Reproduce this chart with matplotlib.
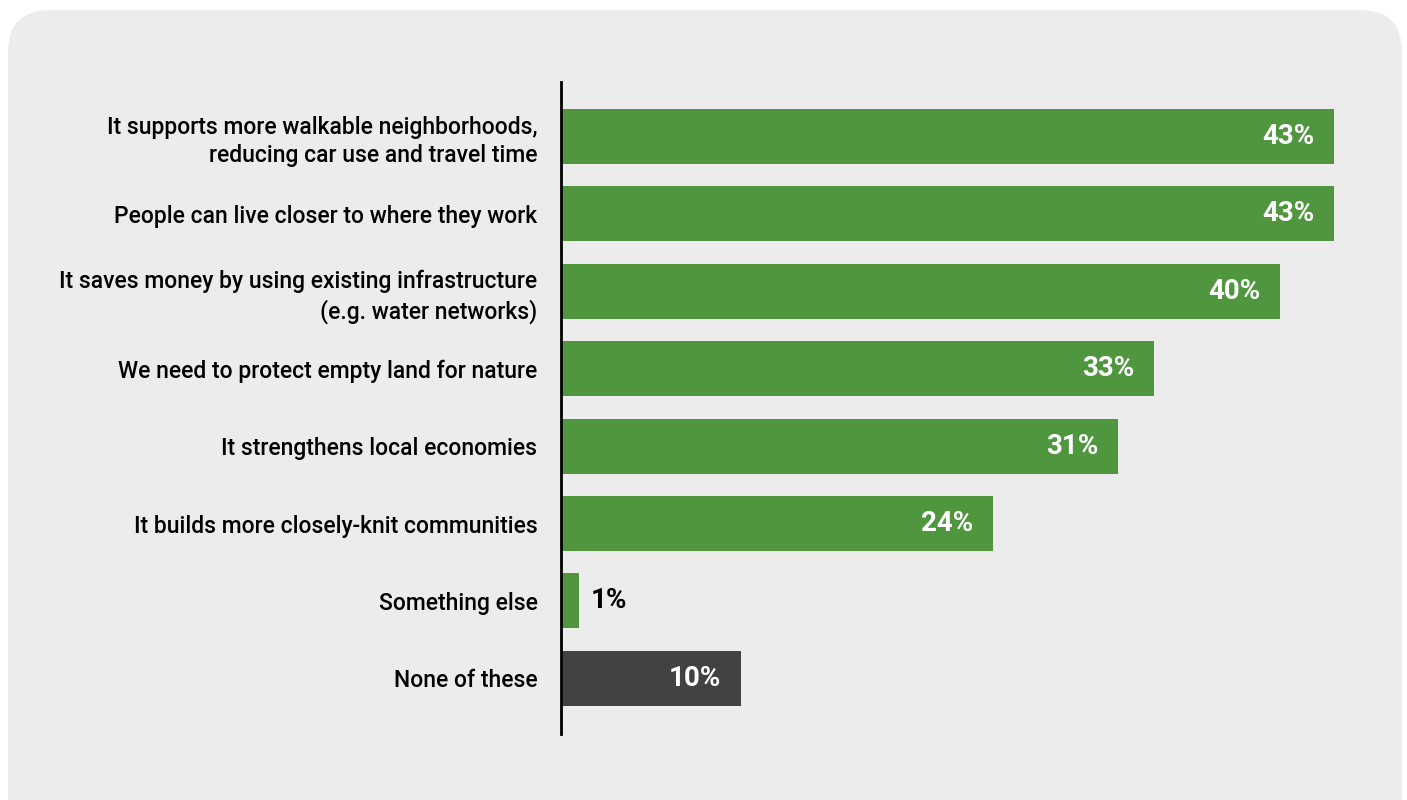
import matplotlib.pyplot as plt
from matplotlib.patches import FancyBboxPatch
from matplotlib import font_manager

categories = [
    "It supports more walkable neighborhoods,\nreducing car use and travel time",
    "People can live closer to where they work",
    "It saves money by using existing infrastructure\n(e.g. water networks)",
    "We need to protect empty land for nature",
    "It strengthens local economies",
    "It builds more closely-knit communities",
    "Something else",
    "None of these",
]
values = [43, 43, 40, 33, 31, 24, 1, 10]
colors = ["#4f963f"] * 7 + ["#424242"]

names = {f.name for f in font_manager.fontManager.ttflist}
fam = "Liberation Sans Narrow" if "Liberation Sans Narrow" in names else "Roboto"
plt.rcParams["font.family"] = [fam, "DejaVu Sans"]

fig = plt.figure(figsize=(14.07, 8), dpi=100)
fig.patch.set_facecolor("white")

# rounded grey panel behind everything
panel = FancyBboxPatch((8 / 1407, -0.1), 1394 / 1407, 1.1 - 10 / 800,
                       boxstyle="round,pad=0,rounding_size=0.03",
                       transform=fig.transFigure, facecolor="#ececec",
                       edgecolor="none", zorder=-10, mutation_aspect=1407 / 800)
fig.patches.append(panel)

ax = fig.add_axes([561 / 1407, 1 - 734 / 800, (1390 - 561) / 1407, (734 - 82) / 800])
ax.set_facecolor("none")
ax.set_zorder(1)

y = list(range(len(categories)))
ax.barh(y, values, height=0.71, color=colors, zorder=2)

ax.set_xlim(0, 46.1)
ax.set_ylim(7.72, -0.705)
ax.set_yticks(y)
ax.set_yticklabels(categories, fontsize=16.5, ha="right", linespacing=1.3,
                   fontweight="medium")
ax.tick_params(axis="y", length=0, pad=17)
ax.set_xticks([])
for s in ["top", "right", "bottom"]:
    ax.spines[s].set_visible(False)
ax.spines["left"].set_linewidth(2)
ax.spines["left"].set_color("black")
ax.spines["left"].set_zorder(3)

for yi, v in zip(y, values):
    if v >= 5:
        ax.text(v - 1.1, yi, f"{v}%", ha="right", va="center", color="white",
                fontsize=20, fontweight="bold", zorder=4)
    else:
        ax.text(v + 0.65, yi, f"{v}%", ha="left", va="center", color="black",
                fontsize=20, fontweight="bold", zorder=4)

fig.savefig("out.png", dpi=100)
